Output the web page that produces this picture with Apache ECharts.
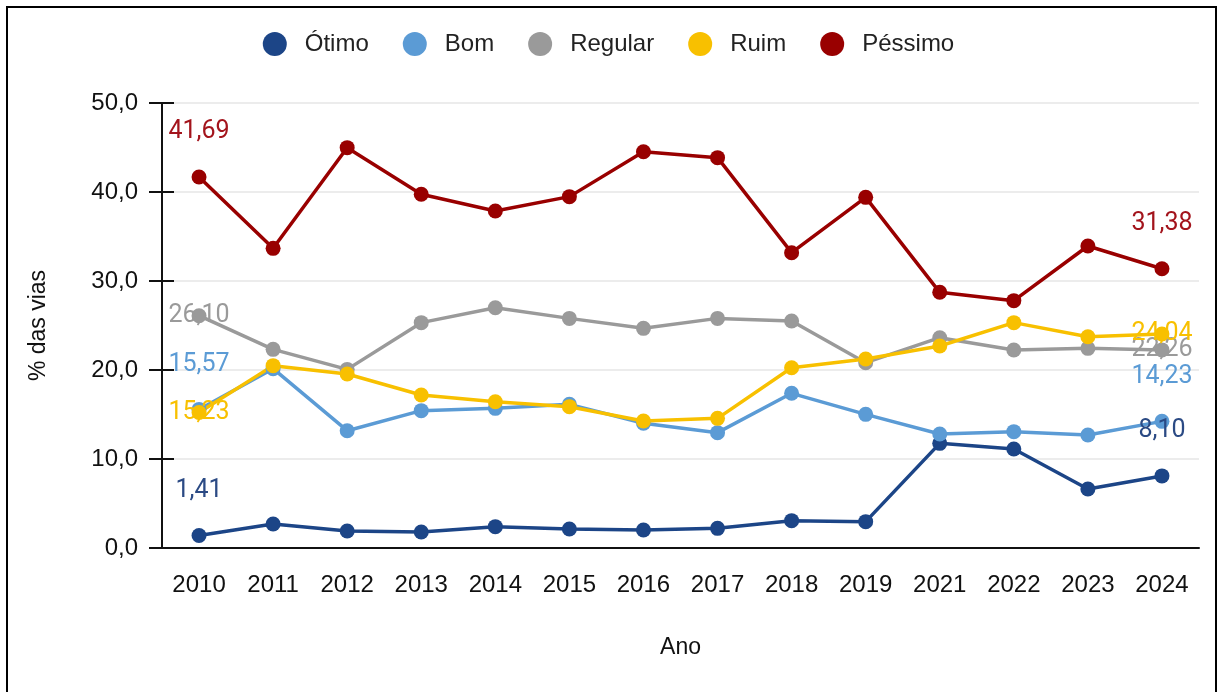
<!DOCTYPE html>
<html>
<head>
<meta charset="utf-8">
<script src="https://cdn.jsdelivr.net/npm/echarts@6/dist/echarts.min.js"></script>
<style>
  html, body { margin: 0; padding: 0; background: #fff; overflow: hidden; }
  #chart { position: absolute; left: 0; top: 0; width: 1217px; height: 692px; }
  #frame { position: absolute; left: 6px; top: 6px; width: 1211px; height: 720px;
           box-sizing: border-box; border: 2px solid #000; pointer-events: none; }
</style>
</head>
<body>
<div id="chart"></div>
<div id="frame"></div>
<script>
// Condição das vias por ano (% das vias)
const years = ['2010', '2011', '2012', '2013', '2014', '2015', '2016', '2017', '2018', '2019', '2021', '2022', '2023', '2024'];
const otimo   = [1.41, 2.70, 1.91, 1.80, 2.40, 2.13, 2.02, 2.21, 3.07, 2.96, 11.76, 11.12, 6.63, 8.10];
const bom     = [15.57, 20.15, 13.18, 15.43, 15.69, 16.14, 14.01, 12.96, 17.38, 15.02, 12.81, 13.07, 12.70, 14.23];
const regular = [26.10, 22.32, 20.07, 25.32, 27.00, 25.80, 24.68, 25.80, 25.50, 20.82, 23.63, 22.25, 22.43, 22.26];
const ruim    = [15.23, 20.49, 19.55, 17.19, 16.44, 15.88, 14.27, 14.57, 20.26, 21.24, 22.70, 25.32, 23.74, 24.04];
const pessimo = [41.69, 33.67, 44.98, 39.74, 37.87, 39.48, 44.53, 43.86, 33.18, 39.40, 28.73, 27.79, 33.93, 31.38];
const yTicks  = [0, 10, 20, 30, 40, 50];

const seriesDefs = [
  { name: 'Ótimo',   values: otimo,   color: '#1c4587', labelColor: '#2b4a84', raise: [true, true] },
  { name: 'Bom',     values: bom,     color: '#5b9bd5', labelColor: '#5b9bd5', raise: [true, true] },
  { name: 'Regular', values: regular, color: '#9a9a9a', labelColor: '#9a9a9a', raise: [false, false] },
  { name: 'Ruim',    values: ruim,    color: '#f8c000', labelColor: '#f8c000', raise: [false, false] },
  { name: 'Péssimo', values: pessimo, color: '#990000', labelColor: '#a3141c', raise: [true, true] }
];

const fmt2 = v => v.toFixed(2).replace('.', ',');
const fmt1 = v => v.toFixed(1).replace('.', ',');

function buildData(def) {
  const last = def.values.length - 1;
  return def.values.map((v, i) => {
    if (i !== 0 && i !== last) return v;
    const up = def.raise[i === 0 ? 0 : 1];
    return {
      value: v,
      label: {
        show: true,
        position: 'inside',
        offset: [0, up ? -45 : 0],
        formatter: p => fmt2(p.value),
        color: def.labelColor,
        fontFamily: 'Roboto',
        fontSize: 25
      }
    };
  });
}

const chart = echarts.init(document.getElementById('chart'), null, { renderer: 'canvas' });

const axisFont = { fontFamily: 'Liberation Sans', fontSize: 24, color: '#111' };

chart.setOption({
  animation: false,
  backgroundColor: '#fff',
  color: seriesDefs.map(d => d.color),
  legend: {
    top: 27,
    left: 'center',
    icon: 'circle',
    itemWidth: 24,
    itemHeight: 24,
    itemGap: 34,
    textStyle: { fontFamily: 'Liberation Sans', fontSize: 24, color: '#222', padding: [0, 0, 0, 13] },
    data: seriesDefs.map(d => d.name)
  },
  grid: { left: 162, right: 18, top: 103, bottom: 144 },
  xAxis: {
    type: 'category',
    data: years,
    boundaryGap: true,
    name: 'Ano',
    nameLocation: 'middle',
    nameGap: 88,
    nameTextStyle: { fontFamily: 'Liberation Sans', fontSize: 23, color: '#111' },
    axisLine: { lineStyle: { color: '#111', width: 2 } },
    axisTick: { alignWithLabel: true, length: 17, lineStyle: { color: '#111', width: 2 } },
    axisLabel: Object.assign({ margin: 25 }, axisFont),
    splitLine: { show: false }
  },
  yAxis: [
    {
      type: 'value',
      min: yTicks[0],
      max: yTicks[yTicks.length - 1],
      interval: 10,
      name: '% das vias',
      nameLocation: 'middle',
      nameGap: 112,
      nameTextStyle: { fontFamily: 'Liberation Sans', fontSize: 23, color: '#111' },
      axisLine: { show: true, lineStyle: { color: '#111', width: 2 } },
      axisTick: { show: true, length: 13, lineStyle: { color: '#111', width: 2 } },
      axisLabel: Object.assign({ margin: 24, formatter: v => fmt1(v) }, axisFont),
      splitLine: { show: true, lineStyle: { color: '#e6e6e6', width: 1.5 } }
    },
    {
      // inward half of the crossing ticks
      type: 'value',
      position: 'left',
      min: yTicks[0],
      max: yTicks[yTicks.length - 1],
      interval: 10,
      axisLine: { show: false },
      axisTick: { show: true, inside: true, length: 12, lineStyle: { color: '#111', width: 2 } },
      axisLabel: { show: false },
      splitLine: { show: false }
    }
  ],
  series: seriesDefs.map(def => ({
    name: def.name,
    type: 'line',
    yAxisIndex: 0,
    data: buildData(def),
    symbol: 'circle',
    symbolSize: 15,
    lineStyle: { width: 3.5, color: def.color },
    itemStyle: { color: def.color },
    emphasis: { disabled: true },
    label: { show: false }
  }))
});
</script>
</body>
</html>
